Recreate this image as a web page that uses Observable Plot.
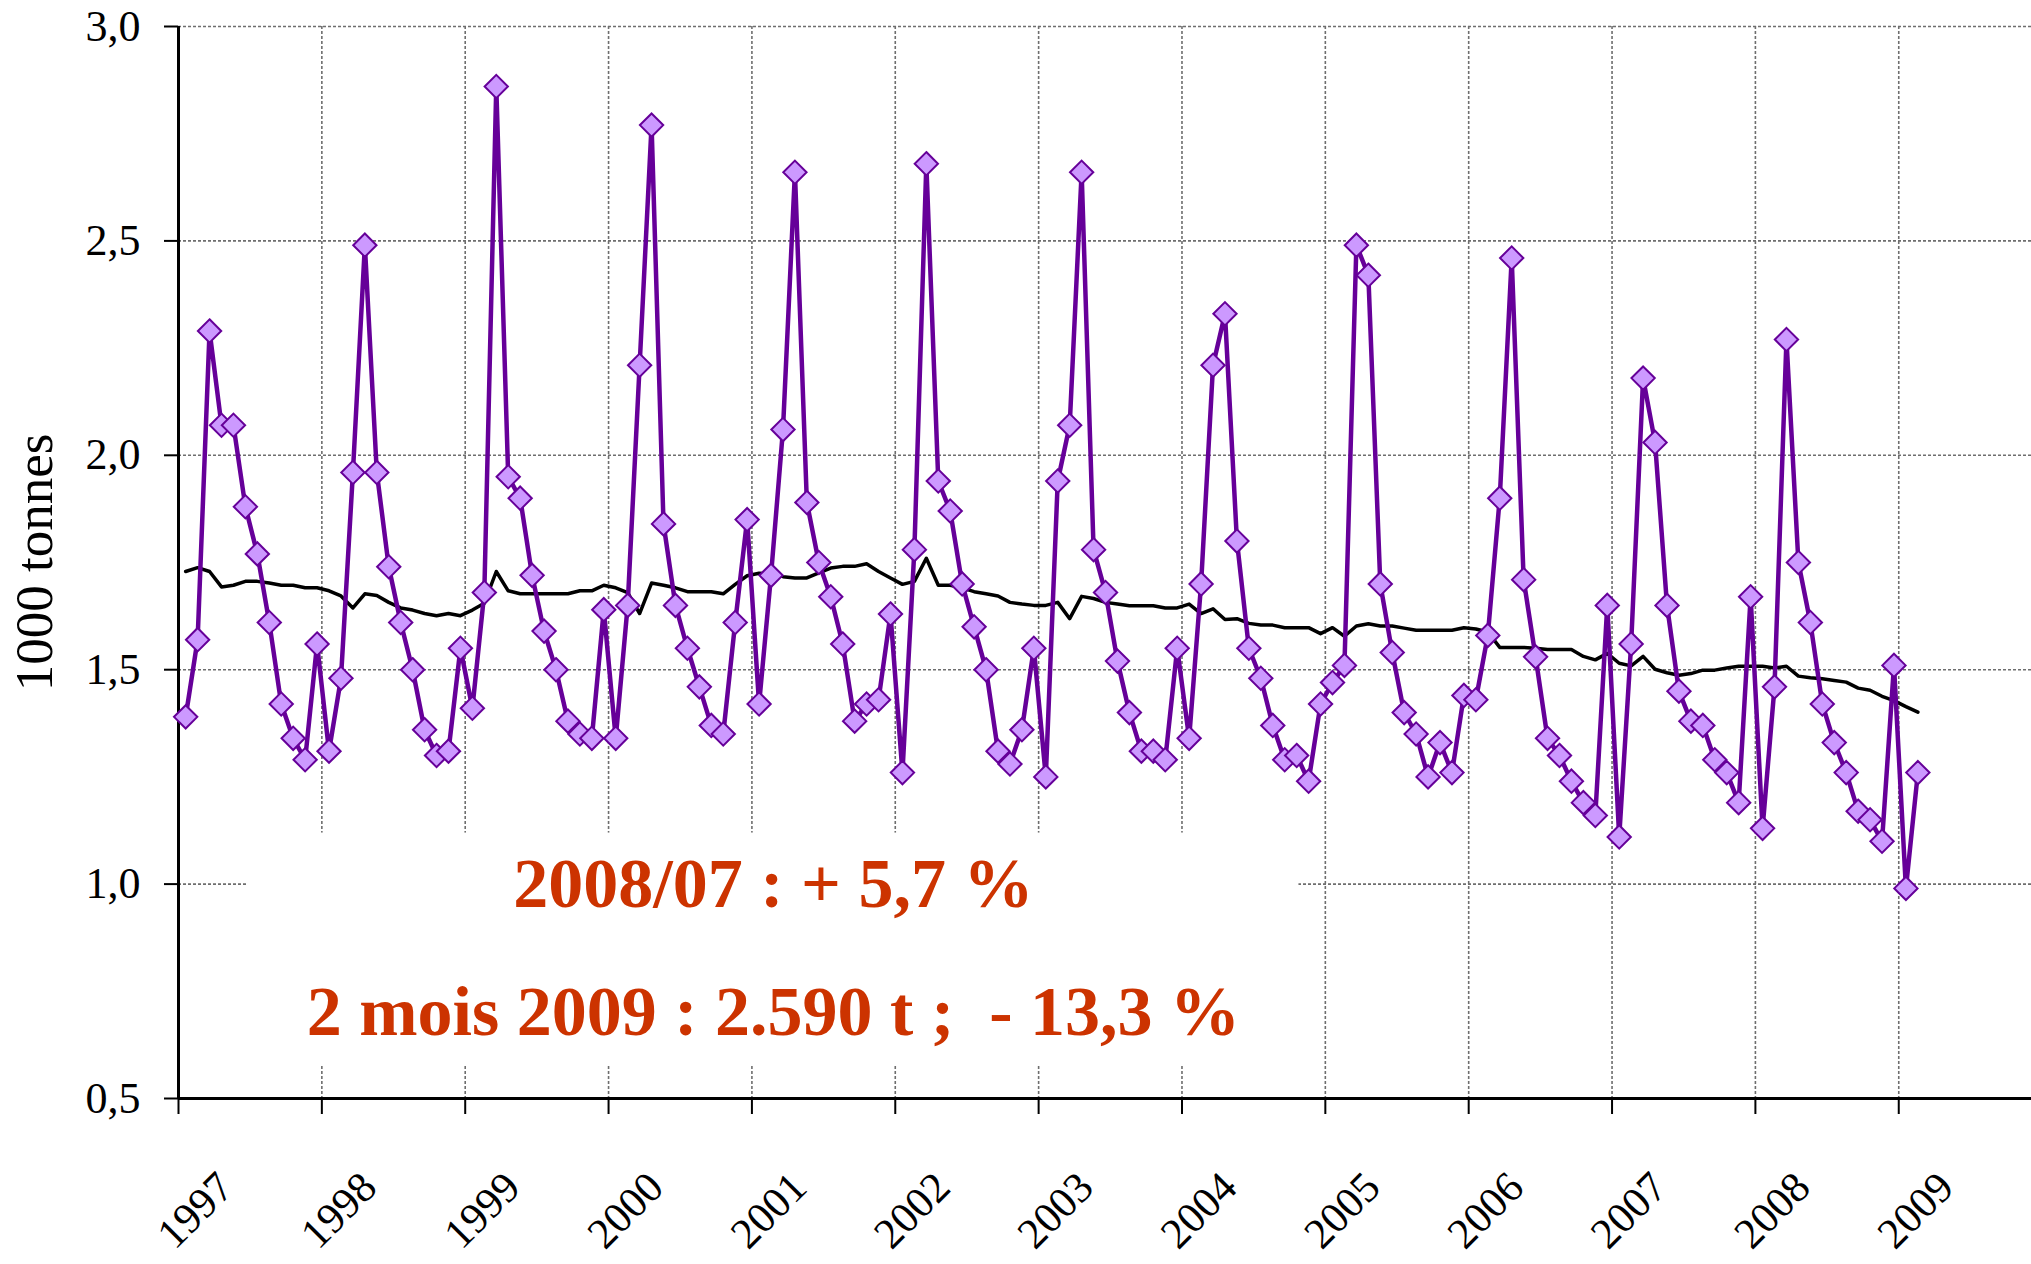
<!DOCTYPE html>
<html>
<head>
<meta charset="utf-8">
<script src="https://cdn.jsdelivr.net/npm/d3@7"></script>
<script src="https://cdn.jsdelivr.net/npm/@observablehq/plot@0.6"></script>
<style>
  html, body { margin: 0; padding: 0; background: #fff; }
  #chart svg { display: block; }
</style>
</head>
<body>
<div id="chart"></div>
<script>
// Year tick labels
const years = [1997, 1998, 1999, 2000, 2001, 2002, 2003, 2004, 2005, 2006, 2007, 2008, 2009];
// Y tick values
const yTicks = [0.5, 1.0, 1.5, 2.0, 2.5, 3.0];

// Monthly values, Jan 1997 – Feb 2009 (1000 tonnes)
const monthly = [
  1.39, 1.57, 2.29, 2.07, 2.07, 1.88, 1.77, 1.61, 1.42, 1.34, 1.29, 1.56, // 1997
  1.31, 1.48, 1.96, 2.49, 1.96, 1.74, 1.61, 1.50, 1.36, 1.30, 1.31, 1.55, // 1998
  1.41, 1.68, 2.86, 1.95, 1.90, 1.72, 1.59, 1.50, 1.38, 1.35, 1.34, 1.64, // 1999
  1.34, 1.65, 2.21, 2.77, 1.84, 1.65, 1.55, 1.46, 1.37, 1.35, 1.61, 1.85, // 2000
  1.42, 1.72, 2.06, 2.66, 1.89, 1.75, 1.67, 1.56, 1.38, 1.42, 1.43, 1.63, // 2001
  1.26, 1.78, 2.68, 1.94, 1.87, 1.70, 1.60, 1.50, 1.31, 1.28, 1.36, 1.55, // 2002
  1.25, 1.94, 2.07, 2.66, 1.78, 1.68, 1.52, 1.40, 1.31, 1.31, 1.29, 1.55, // 2003
  1.34, 1.70, 2.21, 2.33, 1.80, 1.55, 1.48, 1.37, 1.29, 1.30, 1.24, 1.42, // 2004
  1.47, 1.51, 2.49, 2.42, 1.70, 1.54, 1.40, 1.35, 1.25, 1.33, 1.26, 1.44, // 2005
  1.43, 1.58, 1.90, 2.46, 1.71, 1.53, 1.34, 1.30, 1.24, 1.19, 1.16, 1.65, // 2006
  1.11, 1.56, 2.18, 2.03, 1.65, 1.45, 1.38, 1.37, 1.29, 1.26, 1.19, 1.67, // 2007
  1.13, 1.46, 2.27, 1.75, 1.61, 1.42, 1.33, 1.26, 1.17, 1.15, 1.10, 1.51, // 2008
  0.99, 1.26                                                              // 2009
];

// 12-month moving average (black line)
const movingAvg = [
  1.729, 1.738, 1.729, 1.693, 1.697, 1.706, 1.706, 1.702, 1.697, 1.697, 1.691, 1.691,
  1.684, 1.672, 1.644, 1.677, 1.673, 1.657, 1.644, 1.639, 1.631, 1.626, 1.631, 1.626,
  1.639, 1.655, 1.729, 1.684, 1.677, 1.677, 1.677, 1.677, 1.677, 1.684, 1.684, 1.697,
  1.691, 1.680, 1.631, 1.702, 1.697, 1.691, 1.682, 1.682, 1.682, 1.677, 1.699, 1.719,
  1.725, 1.724, 1.717, 1.714, 1.714, 1.726, 1.737, 1.741, 1.741, 1.747, 1.729, 1.714,
  1.699, 1.706, 1.760, 1.697, 1.697, 1.691, 1.682, 1.677, 1.672, 1.657, 1.653, 1.650,
  1.650, 1.657, 1.619, 1.671, 1.666, 1.657, 1.653, 1.649, 1.649, 1.649, 1.644, 1.644,
  1.653, 1.631, 1.642, 1.617, 1.619, 1.608, 1.604, 1.604, 1.598, 1.598, 1.598, 1.584,
  1.598, 1.578, 1.602, 1.607, 1.602, 1.602, 1.597, 1.592, 1.592, 1.592, 1.592, 1.598,
  1.595, 1.588, 1.552, 1.552, 1.552, 1.550, 1.547, 1.547, 1.547, 1.531, 1.523, 1.538,
  1.515, 1.509, 1.531, 1.501, 1.493, 1.487, 1.491, 1.499, 1.499, 1.504, 1.508, 1.508,
  1.508, 1.504, 1.508, 1.485, 1.481, 1.479, 1.475, 1.471, 1.457, 1.452, 1.438, 1.428,
  1.414, 1.401
];

// Annotation texts (placed in data space)
const noteLabels = ["2008/07 : + 5,7 %", "2 mois 2009 : 2.590 t ;\u00a0 - 13,3 %"];
const noteX = [2001.15, 2001.15];
const noteY = [1.0, 0.70];
// White background behind annotation (data space)
const noteBox = [{x1: 1997.485, x2: 2004.816, y1: 1.119, y2: 0.576}];

const series = monthly.map((v, i) => ({t: years[0] + (i + 0.6) / 12, v, ma: movingAvg[i]}));
const notes = noteLabels.map((label, i) => ({label, x: noteX[i], y: noteY[i]}));

const purple = "#660099";
const grid = {stroke: "#6e6e6e", strokeOpacity: 1, strokeWidth: 1.6, strokeDasharray: "3,2"};
const serif = "'Liberation Serif', 'Times New Roman', serif";

const chart = Plot.plot({
  width: 2031,
  height: 1264,
  marginLeft: 178,
  marginRight: 0,
  marginTop: 26,
  marginBottom: 166,
  style: {background: "white", fontFamily: serif, color: "black", overflow: "visible"},
  x: {domain: [1997, 2009.926]},
  y: {domain: [0.5, 3.0]},
  marks: [
    Plot.gridY(yTicks.slice(1), grid),
    Plot.gridX(years.slice(1), grid),
    Plot.rect(noteBox, {x1: "x1", x2: "x2", y1: "y1", y2: "y2", fill: "white"}),
    Plot.ruleY([0.5], {stroke: "black", strokeWidth: 3}),
    Plot.ruleX([1997], {stroke: "black", strokeWidth: 3}),
    Plot.axisY({
      ticks: yTicks,
      tickFormat: d => d.toFixed(1).replace(".", ","),
      tickSize: 14,
      tickPadding: 24,
      strokeWidth: 2,
      fontSize: 44,
      fontFamily: serif,
      label: null
    }),
    Plot.axisY({
      ticks: [],
      label: "1000 tonnes",
      labelAnchor: "center",
      labelArrow: "none",
      labelOffset: 164,
      fontSize: 53,
      fontFamily: serif
    }),
    // tick marks only
    Plot.axisX({
      ticks: years,
      tickFormat: () => "",
      tickSize: 16,
      strokeWidth: 2,
      label: null
    }),
    // rotated year labels
    Plot.axisX({
      ticks: years,
      tickFormat: d => String(d),
      tickSize: 0,
      tickPadding: 112,
      tickRotate: -45,
      textAnchor: "middle",
      lineAnchor: "middle",
      dx: 17,
      fontSize: 43,
      fontFamily: serif,
      label: null
    }),
    Plot.line(series, {x: "t", y: "ma", stroke: "black", strokeWidth: 3.5}),
    Plot.line(series, {x: "t", y: "v", stroke: purple, strokeWidth: 4.5}),
    Plot.dot(series, {x: "t", y: "v", symbol: "diamond2", r: 10.5, fill: "#CC99FF", stroke: purple, strokeWidth: 2}),
    Plot.text(notes, {
      x: "x", y: "y", text: "label",
      fill: "#CC3300", fontSize: 70, fontWeight: "bold", fontFamily: serif,
      textAnchor: "middle", lineAnchor: "middle"
    })
  ]
});

document.getElementById("chart").appendChild(chart);
</script>
</body>
</html>
